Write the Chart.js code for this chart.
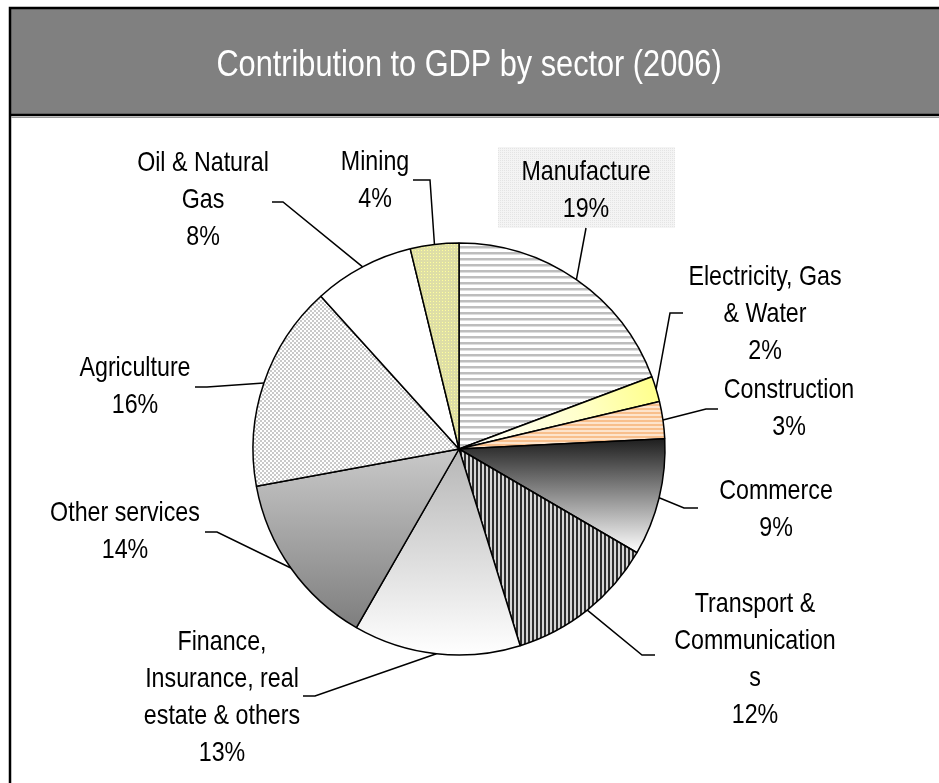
<!DOCTYPE html>
<html>
<head>
<meta charset="utf-8">
<script src="https://cdn.jsdelivr.net/npm/chart.js@4.4.1/dist/chart.umd.min.js"></script>
<style>
    html, body { margin: 0; padding: 0; background: #fff; }
    #wrap { width: 939px; height: 783px; }
</style>
</head>
<body>
<div id="wrap"><canvas id="gdp" width="939" height="783"></canvas></div>
<script>
// Contribution to GDP by sector (2006), clockwise from 12 o'clock
const sectors = ['Manufacture', 'Electricity, Gas & Water', 'Construction', 'Commerce',
    'Transport & Communications', 'Finance, Insurance, real estate & others',
    'Other services', 'Agriculture', 'Oil & Natural Gas', 'Mining'];
const shares = [19.3, 2.0, 2.9, 9.2, 11.8, 13.1, 13.8, 16.2, 7.9, 3.8];
// label text as it wraps in the original
const labelLines = [['Manufacture'], ['Electricity, Gas', '& Water'], ['Construction'], ['Commerce'],
    ['Transport &', 'Communication', 's'], ['Finance,', 'Insurance, real', 'estate & others'],
    ['Other services'], ['Agriculture'], ['Oil & Natural', 'Gas'], ['Mining']];
const chartTitle = 'Contribution to GDP by sector (2006)';

// label placement: text centre x, first line y, leader start points
const labelPlace = [
    { x: 586, y: 172, leader: [[586, 228]] },
    { x: 765, y: 277, leader: [[683, 313], [670, 313]] },
    { x: 789, y: 390, leader: [[718, 409], [706, 409]] },
    { x: 776, y: 491, leader: [[698, 508], [684, 508]] },
    { x: 755, y: 604, leader: [[655, 655], [642, 655]] },
    { x: 222, y: 642, leader: [[303, 696], [315, 696]] },
    { x: 125, y: 513, leader: [[205, 532], [217, 532]] },
    { x: 135, y: 368, leader: [[195, 387], [207, 387]] },
    { x: 203, y: 163, leader: [[272, 202], [283, 202]] },
    { x: 375, y: 162, leader: [[413, 180], [430, 180]] }
];

const PIE_R = 206;
// no Arial Narrow here, so Liberation Sans squeezed sideways
const FONT = '"Liberation Sans", Arial, sans-serif';
const NARROW = 0.83;

function narrowText(ctx, text, x, y) {
    ctx.save();
    ctx.translate(x, y);
    ctx.scale(NARROW, 1);
    ctx.fillText(text, 0, 0);
    ctx.restore();
}

function tile(w, h, draw) {
    const c = document.createElement('canvas');
    c.width = w; c.height = h;
    const g = c.getContext('2d');
    draw(g);
    return g.createPattern(c, 'repeat');
}

const stripesGray = tile(1, 6, g => {
    g.fillStyle = '#fff'; g.fillRect(0, 0, 1, 6);
    g.fillStyle = '#bdbdbd'; g.fillRect(0, 0, 1, 2);
    g.fillStyle = '#dedede'; g.fillRect(0, 2, 1, 1);
});
const stripesPeach = tile(1, 4, g => {
    g.fillStyle = '#fde4cc'; g.fillRect(0, 0, 1, 4);
    g.fillStyle = '#f8bf8c'; g.fillRect(0, 0, 1, 2);
});
const stripesDark = tile(4, 1, g => {
    g.fillStyle = '#d6d6d6'; g.fillRect(0, 0, 4, 1);
    g.fillStyle = '#2e2e2e'; g.fillRect(0, 0, 2, 1);
});
const checker = tile(4, 4, g => {
    g.fillStyle = '#fff'; g.fillRect(0, 0, 4, 4);
    g.fillStyle = '#c9c9c9'; g.fillRect(0, 0, 2, 2); g.fillRect(2, 2, 2, 2);
});
const dotsKhaki = tile(3, 3, g => {
    g.fillStyle = '#dedea6'; g.fillRect(0, 0, 3, 3);
    g.fillStyle = '#ffff9c'; g.fillRect(1, 1, 1, 1);
});
const dotsBox = tile(2, 2, g => {
    g.fillStyle = '#f4f4f4'; g.fillRect(0, 0, 2, 2);
    g.fillStyle = '#e4e4e4'; g.fillRect(0, 0, 1, 1);
});

// angles measured clockwise from 12 o'clock
function sliceAngles(i) {
    const total = shares.reduce((a, b) => a + b, 0);
    let before = 0;
    for (let k = 0; k < i; k++) before += shares[k];
    return [before / total * 2 * Math.PI, (before + shares[i]) / total * 2 * Math.PI];
}

function sliceYRange(i, cy, r) {
    const [a0, a1] = sliceAngles(i);
    const ys = [cy, cy - r * Math.cos(a0), cy - r * Math.cos(a1)];
    if (a0 <= Math.PI && a1 >= Math.PI) ys.push(cy + r);
    if (a0 <= 0) ys.push(cy - r);
    return [Math.min(...ys), Math.max(...ys)];
}

function sliceFill(context) {
    const i = context.dataIndex;
    const chart = context.chart;
    const area = chart.chartArea;
    if (!area) return '#fff';
    const cx = (area.left + area.right) / 2;
    const cy = (area.top + area.bottom) / 2;
    const ctx = chart.ctx;
    const vertical = (c0, c1) => {
        const [y0, y1] = sliceYRange(i, cy, PIE_R);
        const gr = ctx.createLinearGradient(0, y0, 0, y1);
        gr.addColorStop(0, c0);
        gr.addColorStop(1, c1);
        return gr;
    };
    switch (i) {
        case 0: return stripesGray;
        case 1: {
            const gr = ctx.createRadialGradient(cx, cy, 0, cx, cy, PIE_R);
            gr.addColorStop(0, '#ffffff');
            gr.addColorStop(0.6, '#ffffcc');
            gr.addColorStop(1, '#ffff8c');
            return gr;
        }
        case 2: return stripesPeach;
        case 3: return vertical('#1e1e1e', '#ffffff');
        case 4: return stripesDark;
        case 5: return vertical('#b6b6b6', '#ffffff');
        case 6: return vertical('#c9c9c9', '#7e7e7e');
        case 7: return checker;
        case 8: return '#ffffff';
        case 9: return dotsKhaki;
    }
}

// frame, grey title bar and title text
const frame = {
    id: 'frame',
    beforeDraw(chart) {
        const ctx = chart.ctx;
        ctx.save();
        ctx.fillStyle = '#fff';
        ctx.fillRect(0, 0, chart.width, chart.height);
        ctx.fillStyle = '#808080';
        ctx.fillRect(10, 8, chart.width, 107);
        ctx.strokeStyle = '#000';
        ctx.lineWidth = 2.5;
        ctx.beginPath();
        ctx.moveTo(chart.width + 5, 8);
        ctx.lineTo(10, 8);
        ctx.lineTo(10, chart.height + 5);
        ctx.moveTo(10, 115);
        ctx.lineTo(chart.width + 5, 115);
        ctx.stroke();
        ctx.strokeStyle = '#9a9a9a';
        ctx.lineWidth = 1;
        ctx.beginPath();
        ctx.moveTo(11, 117.5);
        ctx.lineTo(chart.width, 117.5);
        ctx.stroke();
        ctx.fillStyle = '#fff';
        ctx.font = '37px ' + FONT;
        ctx.textAlign = 'center';
        ctx.textBaseline = 'middle';
        narrowText(ctx, chartTitle, 469, 66);
        ctx.restore();
    }
};

// leader lines and slice labels
const sliceLabels = {
    id: 'sliceLabels',
    afterDatasetsDraw(chart) {
        const ctx = chart.ctx;
        const arcs = chart.getDatasetMeta(0).data;
        ctx.save();
        // the boxed Manufacture label
        const lp0 = labelPlace[0];
        ctx.fillStyle = dotsBox;
        ctx.fillRect(lp0.x - 88, lp0.y - 25, 177, 81);
        arcs.forEach((arc, i) => {
            const p = labelPlace[i];
            const mid = (arc.startAngle + arc.endAngle) / 2;
            const ex = arc.x + Math.cos(mid) * arc.outerRadius;
            const ey = arc.y + Math.sin(mid) * arc.outerRadius;
            ctx.strokeStyle = '#000';
            ctx.lineWidth = 1.5;
            ctx.beginPath();
            p.leader.forEach((pt, k) => k ? ctx.lineTo(pt[0], pt[1]) : ctx.moveTo(pt[0], pt[1]));
            ctx.lineTo(ex, ey);
            ctx.stroke();
            const lines = labelLines[i].concat([Math.round(shares[i]) + '%']);
            ctx.fillStyle = '#000';
            ctx.font = '28px ' + FONT;
            ctx.textAlign = 'center';
            ctx.textBaseline = 'middle';
            lines.forEach((t, k) => narrowText(ctx, t, p.x, p.y + k * 37));
        });
        ctx.restore();
    }
};

new Chart(document.getElementById('gdp'), {
    type: 'pie',
    data: {
        labels: sectors,
        datasets: [{
            data: shares,
            backgroundColor: sliceFill,
            borderColor: '#000',
            borderWidth: 1.5
        }]
    },
    options: {
        responsive: false,
        animation: false,
        radius: PIE_R,
        layout: { padding: { top: 117, left: 10, right: 31, bottom: 2 } },
        plugins: {
            legend: { display: false },
            title: { display: false },
            tooltip: { enabled: false }
        }
    },
    plugins: [frame, sliceLabels]
});
</script>
</body>
</html>
